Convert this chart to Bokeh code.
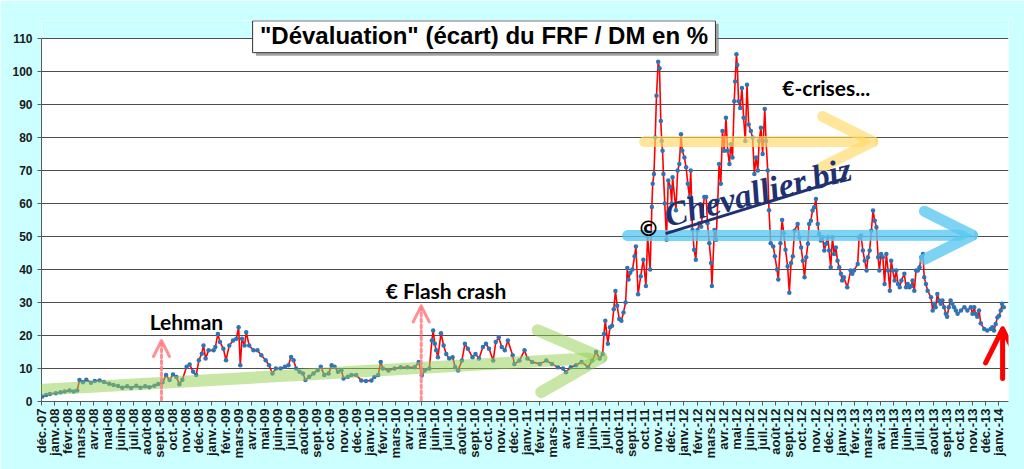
from math import pi
import pandas as pd
from bokeh.plotting import figure
from bokeh.models import (ColumnDataSource, FixedTicker, Range1d, Label, Arrow, OpenHead,
                          BoxAnnotation)
from bokeh.embed import file_html
from bokeh.resources import INLINE

# ecart FRF / DM en %
dates = [
    # 2007 - 2008
    "2007-12-03", "2007-12-12", "2007-12-21", "2008-01-04", "2008-01-15", "2008-01-25",
    "2008-02-05", "2008-02-14", "2008-02-22", "2008-02-27", "2008-03-06", "2008-03-14",
    "2008-03-25", "2008-04-03", "2008-04-14", "2008-04-24", "2008-05-06", "2008-05-16",
    "2008-05-27", "2008-06-06", "2008-06-17", "2008-06-26", "2008-07-08", "2008-07-18",
    "2008-07-29", "2008-08-08", "2008-08-20", "2008-08-29", "2008-09-08", "2008-09-16",
    "2008-09-24", "2008-10-02", "2008-10-10", "2008-10-17", "2008-10-24", "2008-11-03",
    "2008-11-10", "2008-11-18", "2008-11-25", "2008-12-01", "2008-12-08", "2008-12-12",
    "2008-12-17", "2008-12-24",
    # 2009
    "2009-01-05", "2009-01-09", "2009-01-15", "2009-01-20", "2009-01-28", "2009-02-03",
    "2009-02-10", "2009-02-18", "2009-02-25", "2009-03-02", "2009-03-06", "2009-03-10",
    "2009-03-16", "2009-03-20", "2009-03-27", "2009-04-06", "2009-04-15", "2009-04-24",
    "2009-05-04", "2009-05-12", "2009-05-20", "2009-05-28", "2009-06-08", "2009-06-18",
    "2009-06-26", "2009-07-02", "2009-07-08", "2009-07-14", "2009-07-22", "2009-07-30",
    "2009-08-05", "2009-08-14", "2009-08-24", "2009-09-03", "2009-09-10", "2009-09-18",
    "2009-09-28", "2009-10-05", "2009-10-12", "2009-10-20", "2009-10-28", "2009-11-02",
    "2009-11-12", "2009-11-20", "2009-12-01", "2009-12-13", "2009-12-24",
    # 2010
    "2010-01-06", "2010-01-13", "2010-01-22", "2010-01-28", "2010-02-02", "2010-02-14",
    "2010-02-27", "2010-03-13", "2010-03-29", "2010-04-15", "2010-04-24", "2010-05-01",
    "2010-05-08", "2010-05-19", "2010-05-25", "2010-05-28", "2010-06-01", "2010-06-04",
    "2010-06-08", "2010-06-15", "2010-06-21", "2010-06-27", "2010-07-04", "2010-07-12",
    "2010-07-18", "2010-07-25", "2010-08-03", "2010-08-10", "2010-08-17", "2010-08-28",
    "2010-09-04", "2010-09-12", "2010-09-21", "2010-09-28", "2010-10-05", "2010-10-15",
    "2010-10-21", "2010-10-28", "2010-11-04", "2010-11-11", "2010-11-18", "2010-11-29",
    "2010-12-03", "2010-12-15", "2010-12-27",
    # 2011
    "2011-01-03", "2011-01-14", "2011-02-01", "2011-02-15", "2011-02-27", "2011-03-13",
    "2011-03-25", "2011-04-01", "2011-04-12", "2011-04-24", "2011-05-07", "2011-05-22",
    "2011-06-01", "2011-06-10", "2011-06-18", "2011-06-25", "2011-06-28", "2011-07-01",
    "2011-07-07", "2011-07-12", "2011-07-17", "2011-07-21", "2011-07-25", "2011-07-29",
    "2011-08-03", "2011-08-08", "2011-08-13", "2011-08-18", "2011-08-22", "2011-08-25",
    "2011-08-29", "2011-09-03", "2011-09-08", "2011-09-11", "2011-09-16", "2011-09-22",
    "2011-09-28", "2011-10-04", "2011-10-08", "2011-10-14", "2011-10-18", "2011-10-20",
    "2011-10-23", "2011-10-26", "2011-10-29", "2011-11-02", "2011-11-05", "2011-11-08",
    "2011-11-10", "2011-11-12", "2011-11-14", "2011-11-17", "2011-11-21", "2011-11-25",
    "2011-11-30", "2011-12-03", "2011-12-05", "2011-12-13", "2011-12-17", "2011-12-21",
    "2011-12-25", "2011-12-28",
    # 2012
    "2012-01-02", "2012-01-06", "2012-01-10", "2012-01-14", "2012-01-17", "2012-01-21",
    "2012-01-25", "2012-01-29", "2012-02-02", "2012-02-06", "2012-02-10", "2012-02-17",
    "2012-02-21", "2012-02-24", "2012-02-28", "2012-03-03", "2012-03-05", "2012-03-11",
    "2012-03-15", "2012-03-19", "2012-03-22", "2012-03-26", "2012-03-30", "2012-04-03",
    "2012-04-07", "2012-04-11", "2012-04-15", "2012-04-18", "2012-04-22", "2012-04-26",
    "2012-04-28", "2012-05-01", "2012-05-03", "2012-05-06", "2012-05-10", "2012-05-14",
    "2012-05-18", "2012-05-22", "2012-05-26", "2012-05-30", "2012-06-04", "2012-06-08",
    "2012-06-12", "2012-06-16", "2012-06-20", "2012-06-23", "2012-06-27", "2012-07-01",
    "2012-07-06", "2012-07-09", "2012-07-13", "2012-07-16", "2012-07-20", "2012-07-26",
    "2012-07-30", "2012-08-04", "2012-08-07", "2012-08-12", "2012-08-16", "2012-08-20",
    "2012-08-24", "2012-08-29", "2012-09-02", "2012-09-06", "2012-09-10", "2012-09-14",
    "2012-09-21", "2012-09-25", "2012-09-29", "2012-10-03", "2012-10-07", "2012-10-11",
    "2012-10-15", "2012-10-18", "2012-10-22", "2012-10-26", "2012-10-30", "2012-11-03",
    "2012-11-07", "2012-11-10", "2012-11-14", "2012-11-18", "2012-11-22", "2012-11-26",
    "2012-11-30", "2012-12-03", "2012-12-07", "2012-12-11", "2012-12-15", "2012-12-19",
    "2012-12-23", "2012-12-27", "2012-12-31",
    # 2013 - 2014
    "2013-01-03", "2013-01-07", "2013-01-15", "2013-01-23", "2013-01-27", "2013-01-31",
    "2013-02-08", "2013-02-11", "2013-02-15", "2013-02-19", "2013-02-23", "2013-02-27",
    "2013-03-02", "2013-03-06", "2013-03-10", "2013-03-14", "2013-03-18", "2013-03-22",
    "2013-03-26", "2013-03-29", "2013-04-02", "2013-04-06", "2013-04-10", "2013-04-14",
    "2013-04-18", "2013-04-22", "2013-04-25", "2013-04-29", "2013-05-03", "2013-05-07",
    "2013-05-11", "2013-05-15", "2013-05-19", "2013-05-26", "2013-05-30", "2013-06-03",
    "2013-06-07", "2013-06-11", "2013-06-14", "2013-06-18", "2013-06-22", "2013-06-26",
    "2013-06-30", "2013-07-04", "2013-07-08", "2013-07-11", "2013-07-15", "2013-07-19",
    "2013-07-27", "2013-07-31", "2013-08-03", "2013-08-07", "2013-08-11", "2013-08-15",
    "2013-08-19", "2013-08-23", "2013-08-27", "2013-08-31", "2013-09-03", "2013-09-07",
    "2013-09-11", "2013-09-15", "2013-09-19", "2013-09-23", "2013-09-27", "2013-10-05",
    "2013-10-13", "2013-10-20", "2013-10-28", "2013-11-01", "2013-11-05", "2013-11-08",
    "2013-11-12", "2013-11-16", "2013-11-20", "2013-11-28", "2013-12-05", "2013-12-13",
    "2013-12-17", "2013-12-21", "2013-12-25", "2013-12-29", "2014-01-02", "2014-01-06",
    "2014-01-09", "2014-01-13",
]

ecart = [
    # 2007 - 2008
    1.5, 2.0, 2.3, 2.5, 2.8, 3.0,
    3.3, 3.0, 3.3, 6.5, 5.8, 6.6,
    5.7, 6.2, 6.4, 5.9, 5.4, 5.0,
    4.7, 4.2, 4.6, 4.1, 4.8, 4.2,
    4.6, 4.3, 4.8, 5.3, 5.8, 8.0,
    6.5, 8.2, 7.4, 5.2, 6.6, 10.5,
    11.2, 9.0, 8.0, 12.5, 14.5, 17.0,
    13.0, 15.5,
    # 2009
    15.5, 16.5, 20.5, 18.0, 16.0, 12.5,
    17.0, 18.5, 19.0, 22.5, 11.0, 19.0,
    17.0, 21.0, 17.0, 15.5, 15.5, 14.0,
    12.5, 11.0, 8.5, 10.0, 10.0, 10.5,
    11.0, 13.5, 12.5, 10.0, 9.0, 8.5,
    6.5, 7.5, 8.5, 9.5, 10.5, 8.0,
    8.5, 11.0, 10.5, 9.0, 9.5, 7.0,
    7.5, 8.0, 8.0, 6.4, 6.2,
    # 2010
    6.4, 7.4, 8.0, 12.0, 10.0, 9.4,
    10.0, 10.4, 10.4, 10.4, 12.0, 7.9,
    9.4, 10.0, 18.5, 21.5, 17.5, 15.5,
    13.4, 20.7, 17.0, 14.4, 13.0, 13.4,
    10.4, 9.4, 12.4, 17.5, 16.0, 13.4,
    14.4, 13.0, 16.5, 17.5, 16.0, 12.4,
    18.0, 19.5, 16.5, 15.5, 18.5, 14.0,
    11.4, 12.4, 15.5,
    # 2011
    13.0, 12.0, 11.4, 12.4, 11.4, 10.4,
    10.0, 8.9, 10.4, 11.0, 12.0, 10.4,
    12.4, 15.0, 13.0, 14.4, 20.5, 24.5,
    17.5, 22.5, 23.0, 28.0, 33.5, 29.0,
    25.0, 24.5, 27.0, 30.0, 40.5, 37.0,
    39.0, 40.0, 44.0, 47.0, 32.5, 38.0,
    43.0, 35.0, 50.0, 40.0, 59.0, 66.0,
    69.0, 80.0, 92.7, 103.0, 101.0, 85.0,
    79.0, 76.0, 69.0, 60.0, 49.0, 67.0,
    65.0, 60.0, 68.0, 58.0, 70.0, 72.0,
    81.0, 76.0,
    # 2012
    74.0, 71.0, 66.0, 62.0, 70.0, 52.0,
    46.0, 43.0, 52.0, 54.0, 53.0, 62.0,
    62.0, 54.0, 48.0, 42.0, 35.0, 52.0,
    49.0, 61.0, 72.0, 66.0, 82.0, 76.0,
    86.0, 76.0, 72.0, 78.0, 74.0, 91.0,
    97.0, 105.3, 102.0, 91.0, 89.0, 95.0,
    86.0, 79.0, 96.0, 84.0, 82.0, 80.0,
    69.0, 74.0, 70.0, 79.0, 83.0, 75.0,
    88.7, 79.0, 70.0, 58.0, 48.0, 47.0,
    44.0, 40.0, 37.0, 48.0, 55.0, 51.0,
    46.0, 41.0, 33.0, 42.0, 44.0, 51.8,
    53.8, 49.8, 46.7, 42.7, 37.7, 43.7,
    47.8, 53.8, 54.8, 57.9, 58.9, 61.4,
    53.8, 50.8, 48.8, 49.8, 45.8, 47.8,
    49.8, 45.8, 40.7, 49.8, 44.7, 46.7,
    42.7, 40.7, 38.7,
    # 2013 - 2014
    36.7, 37.7, 34.6, 39.7, 38.7, 39.7,
    41.7, 49.8, 50.3, 45.8, 42.7, 39.7,
    43.7, 45.8, 51.8, 57.9, 54.8, 52.8,
    43.7, 39.7, 44.7, 43.7, 35.6, 44.7,
    39.7, 33.6, 42.7, 39.7, 36.7, 39.7,
    35.6, 34.6, 36.7, 38.7, 34.6, 35.6,
    34.6, 35.0, 36.7, 33.6, 39.7, 39.7,
    40.7, 43.7, 44.7, 37.7, 35.6, 33.6,
    31.6, 27.6, 29.6, 28.6, 32.6, 30.6,
    29.6, 30.6, 28.6, 26.6, 25.7, 28.6,
    30.6, 29.6, 28.6, 27.6, 26.6, 27.6,
    28.6, 27.6, 28.6, 26.6, 28.6, 26.6,
    25.7, 27.6, 23.7, 22.0, 21.5, 22.0,
    22.5, 21.5, 23.5, 25.5, 26.0, 27.6,
    29.6, 28.6,
]

mois = ["janv.", "févr.", "mars", "avr.", "mai", "juin",
        "juil.", "août", "sept.", "oct.", "nov.", "déc."]
annees = ["08", "09", "10", "11", "12", "13"]
tick_labels = ["déc.-07"] + [m + "-" + a for a in annees for m in mois] + ["janv.-14"]

# position en mois depuis le 1er dec. 2007
d = pd.to_datetime(dates)
xm = (d.year - 2007) * 12 + (d.month - 12) + (d.day - 1) / d.days_in_month

src = ColumnDataSource(dict(x=list(xm), y=ecart))

# le cadre monte jusqu'au haut du titre ; la zone au-dessus de 110 est recouverte de cyan
p = figure(width=1024, height=469, output_backend="svg", toolbar_location=None,
           title=None,
           x_range=Range1d(0, 73.75), y_range=Range1d(0, 115.5),
           min_border_left=41, min_border_right=16, min_border_top=20, min_border_bottom=68,
           background_fill_color="white", border_fill_color="#CCFFFF",
           outline_line_color=None)

p.add_layout(BoxAnnotation(bottom=110.2, fill_color="#CCFFFF", fill_alpha=1.0,
                           line_color=None, level="underlay"))

p.line("x", "y", source=src, line_color="#FF0000", line_width=1.6)
p.scatter("x", "y", source=src, marker="circle", size=4.5,
          fill_color="#2E75B6", line_color=None)

# axes
p.yaxis.ticker = FixedTicker(ticks=list(range(0, 111, 10)))
p.yaxis.bounds = (0, 110)
p.yaxis.major_label_text_font = "Liberation Sans"
p.yaxis.major_label_text_font_style = "bold"
p.yaxis.major_label_text_font_size = "12px"
p.yaxis.major_label_text_color = "#1a1a1a"
p.yaxis.major_tick_in = 0
p.yaxis.major_tick_out = 4
p.yaxis.minor_tick_out = 0
p.yaxis.major_label_standoff = 5
p.yaxis.axis_line_color = "#595959"
p.yaxis.major_tick_line_color = "#595959"

p.xaxis.ticker = FixedTicker(ticks=list(range(len(tick_labels))))
p.xaxis.major_label_overrides = {i: lab for i, lab in enumerate(tick_labels)}
p.xaxis.major_label_orientation = pi / 2
p.xaxis.major_label_text_font = "Liberation Sans"
p.xaxis.major_label_text_font_style = "bold"
p.xaxis.major_label_text_font_size = "13px"
p.xaxis.major_label_text_color = "#1a1a1a"
p.xaxis.major_tick_in = 0
p.xaxis.major_tick_out = 4
p.xaxis.minor_tick_out = 0
p.xaxis.major_label_standoff = 3
p.xaxis.axis_line_color = "#595959"
p.xaxis.major_tick_line_color = "#595959"

p.xgrid.visible = False
p.ygrid.grid_line_color = "#4d4d4d"
p.ygrid.bounds = (0, 110)

# fleches
def fleche(x0, y0, x1, y1, color, lw, alpha, size, dash="solid"):
    head = OpenHead(size=size, line_color=color, line_width=lw, line_alpha=alpha,
                    line_cap="round", line_join="round")
    p.add_layout(Arrow(end=head, x_start=x0, y_start=y0, x_end=x1, y_end=y1,
                       line_color=color, line_width=lw, line_alpha=alpha,
                       line_cap="round", line_dash=dash))

fleche(0.1, 3.6, 42.7, 13.3, "#92D050", 12, 0.5, 62)
fleche(46.0, 78.8, 63.4, 78.8, "#FFD966", 11, 0.65, 50)
fleche(44.7, 50.3, 71.0, 50.4, "#5BC8F0", 11, 0.8, 48)
fleche(9.15, 0.5, 9.15, 18.5, "#FF7C80", 3, 0.85, 16, "3 3")
fleche(28.96, 0.5, 28.96, 29.0, "#FF7C80", 3, 0.85, 16, "3 3")
fleche(73.3, 7.0, 73.3, 22.0, "#FF0000", 5, 1.0, 34)

# textes
for tx, ty, txt in [(8.25, 24.4, "Lehman"), (26.25, 33.5, "€ Flash crash"),
                    (56.5, 95.3, "€-crises...")]:
    p.add_layout(Label(x=tx, y=ty, text=txt, text_font="Lato", text_font_style="bold",
                       text_font_size="21px", text_color="black",
                       text_baseline="middle"))

# filigrane
p.add_layout(Arrow(end=None, x_start=47.6, y_start=50.9, x_end=61.4, y_end=67.8,
                   line_color="#1F3171", line_width=3))
p.add_layout(Label(x=46.3, y=52.4, text="©", text_font="DejaVu Sans",
                   text_font_style="bold", text_font_size="22px", text_color="black",
                   text_align="center", text_baseline="middle"))
p.add_layout(Label(x=47.55, y=56.3, text="Chevallier.biz", angle=0.25,
                   text_font="Liberation Serif", text_font_style="bold italic",
                   text_font_size="34px", text_color="#1F3171",
                   text_baseline="middle"))

# titre : cadre + ombre + texte
p.add_layout(BoxAnnotation(left=16.35, right=51.65, bottom=104.85, top=114.55,
                           fill_color="#8c8c8c", fill_alpha=0.8, line_color=None,
                           level="overlay"))
p.add_layout(BoxAnnotation(left=16.1, right=51.4, bottom=105.75, top=115.4,
                           fill_color="white", fill_alpha=1.0,
                           line_color="#333333", line_width=1, line_alpha=1.0,
                           level="overlay"))
p.add_layout(Label(x=33.75, y=110.9, text='"Dévaluation" (écart) du FRF / DM en %',
                   text_align="center", text_baseline="middle",
                   text_font="Liberation Sans", text_font_style="bold",
                   text_font_size="24px", text_color="black", level="overlay"))

open("out.html", "w").write(file_html(p, INLINE))
